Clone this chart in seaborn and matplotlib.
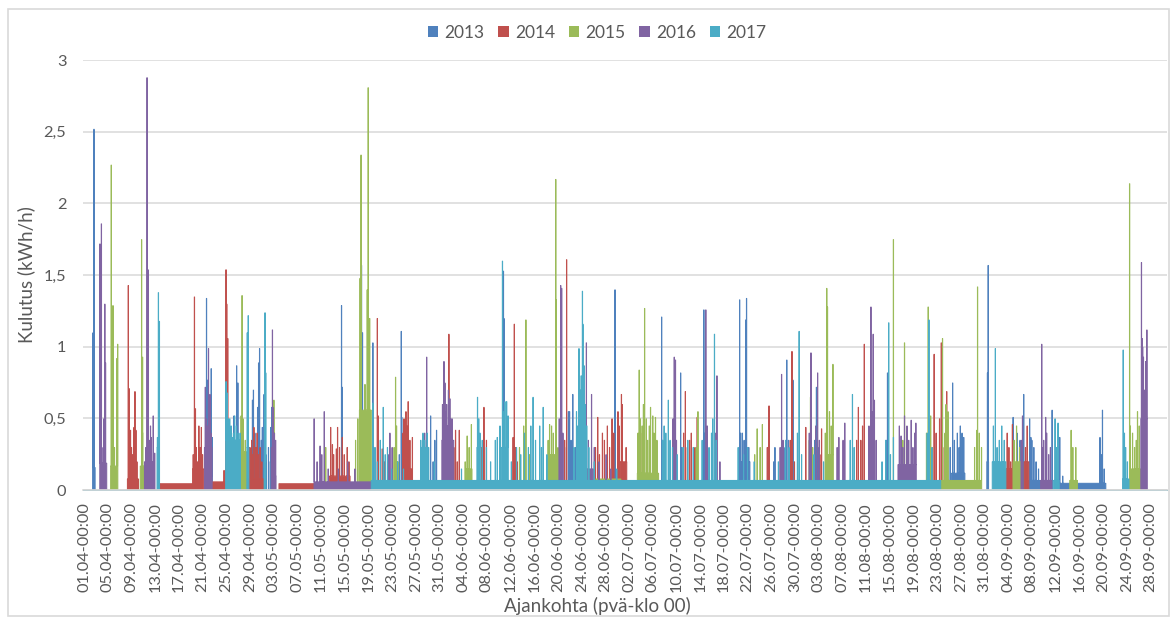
import numpy as np
import pandas as pd
import matplotlib
matplotlib.use("Agg")
import matplotlib.pyplot as plt
from matplotlib.patches import Patch, Rectangle
import seaborn as sns

# Hourly electricity use, 1 April - 30 September, one series per year.
YEARS = ["2013", "2014", "2015", "2016", "2017"]
COLORS = ["#4F81BD", "#C0504D", "#9BBB59", "#8064A2", "#4BACC6"]
N_DAYS = 183

# Each year: standby levels (start day, end day, kWh/h), peak hours (day, kWh/h)
# and smaller hourly readings in the busy periods (day, kWh/h).
base_2013 = [(1.55, 1.95, 0.16), (20.5, 21.7, 0.1), (25.3, 26.1, 0.2), (28.3, 30.5, 0.15),
             (31.5, 32.0, 0.2), (46.8, 47.2, 0.3), (110.6, 112.5, 0.2), (146.5, 148.8, 0.12),
             (152.5, 152.8, 0.2), (159.6, 161.6, 0.07), (164.7, 166.6, 0.05), (167.8, 172.6, 0.05)]
peaks_2013 = [(1.6, 1.10), (1.74, 2.52), (20.77, 1.34), (20.88, 0.77), (21.55, 0.85), (21.7, 0.37),
              (25.38, 0.52), (25.83, 0.87), (26.06, 0.75), (28.48, 0.63), (28.65, 0.70), (29.38, 0.58),
              (29.55, 0.89), (29.72, 0.99), (30.17, 0.44), (30.45, 0.67), (31.58, 0.44), (31.75, 0.58),
              (43.56, 1.29), (43.67, 0.72), (46.93, 1.57), (47.1, 1.10), (48.85, 1.03), (53.64, 1.11),
              (53.7, 0.51), (58.6, 0.52), (59.6, 0.42), (70.86, 1.53), (70.97, 1.20), (81.83, 0.55),
              (82.06, 0.55), (82.6, 0.67), (89.7, 1.40), (97.6, 1.21), (100.8, 0.82), (104.7, 1.26),
              (110.76, 1.33), (111.2, 0.40), (111.8, 1.19), (111.9, 1.34), (112.3, 0.30), (116.7, 0.30),
              (118.7, 0.91), (119.75, 0.77), (123.7, 0.72), (135.7, 0.82), (146.7, 0.75), (147.5, 0.40),
              (148.0, 0.45), (148.6, 0.37), (152.6, 0.82), (152.7, 1.57), (156.9, 0.51), (157.6, 0.40),
              (158.7, 0.67), (159.9, 0.37), (160.4, 0.30), (163.5, 0.56), (164.8, 0.37), (171.6, 0.37),
              (172.0, 0.56)]
minor_2013 = [(26.3, 0.35), (27.95, 0.3), (28.9, 0.4), (29.2, 0.3), (30.0, 0.35), (30.8, 0.25),
              (31.2, 0.3), (32.2, 0.2), (49.0, 0.3), (53.3, 0.25), (58.2, 0.3), (59.0, 0.2),
              (59.3, 0.35), (81.5, 0.3), (82.3, 0.35), (83.0, 0.3), (89.5, 0.35), (97.8, 0.35),
              (101.0, 0.3), (104.9, 0.4), (110.9, 0.4), (111.5, 0.35), (116.5, 0.2), (118.4, 0.3),
              (119.0, 0.35), (123.4, 0.35), (124.0, 0.3), (135.5, 0.35), (146.3, 0.3), (147.0, 0.35),
              (147.8, 0.3), (148.3, 0.4), (158.1, 0.35), (159.7, 0.5), (160.1, 0.35), (160.8, 0.2),
              (161.2, 0.15), (165.3, 0.1), (171.8, 0.25), (172.3, 0.15)]

base_2014 = [(7.4, 9.3, 0.08), (12.9, 18.4, 0.047), (18.4, 20.3, 0.15), (21.7, 24.0, 0.06),
             (27.6, 30.4, 0.08), (33.0, 38.9, 0.047), (41.5, 45.0, 0.1), (54.0, 55.5, 0.15),
             (90.6, 91.7, 0.2), (155.7, 156.8, 0.15), (158.8, 159.6, 0.2)]
peaks_2014 = [(7.54, 1.43), (7.71, 0.71), (7.93, 0.42), (8.5, 0.44), (8.67, 0.69), (8.84, 0.42),
              (18.69, 1.35), (18.86, 0.57), (19.47, 0.45), (19.86, 0.44), (23.7, 0.14), (24.03, 1.54),
              (24.15, 1.30), (24.32, 1.06), (28.37, 0.35), (28.77, 0.44), (29.05, 0.30), (29.5, 0.25),
              (41.7, 0.44), (41.98, 0.32), (42.66, 0.29), (42.88, 0.44), (43.67, 0.37), (44.5, 0.30),
              (49.58, 1.20), (49.75, 0.52), (50.4, 0.29), (54.1, 0.50), (54.4, 0.55), (54.78, 0.62),
              (55.5, 0.37), (61.68, 1.09), (62.8, 0.42), (63.4, 0.42), (67.6, 0.58), (72.5, 0.37),
              (72.7, 1.16), (81.55, 1.61), (86.78, 0.51), (87.6, 0.40), (88.4, 0.45), (89.2, 0.50),
              (90.2, 0.55), (90.8, 0.67), (90.9, 0.60), (91.6, 0.30), (94.04, 0.40), (101.6, 0.69),
              (102.6, 0.40), (103.6, 0.51), (115.7, 0.59), (119.6, 0.97), (121.9, 0.44), (124.6, 0.43),
              (130.8, 0.58), (131.8, 1.02), (143.6, 0.95), (144.8, 1.03), (145.7, 0.69), (155.9, 0.40),
              (156.8, 0.46), (159.0, 0.30), (159.3, 0.45)]
minor_2014 = [(8.1, 0.3), (8.3, 0.25), (9.0, 0.2), (18.5, 0.25), (19.0, 0.3), (19.2, 0.2),
              (19.7, 0.3), (20.1, 0.25), (28.1, 0.3), (28.5, 0.25), (29.3, 0.4), (29.8, 0.3),
              (30.1, 0.2), (42.2, 0.25), (43.2, 0.3), (44.0, 0.25), (44.8, 0.2), (50.8, 0.2),
              (53.9, 0.4), (54.6, 0.45), (55.1, 0.35), (62.5, 0.3), (63.1, 0.2), (67.2, 0.3),
              (68.0, 0.35), (72.9, 0.3), (73.2, 0.2), (81.2, 0.35), (86.4, 0.3), (87.1, 0.25),
              (87.9, 0.35), (88.8, 0.3), (89.5, 0.4), (90.4, 0.45), (101.3, 0.4), (101.9, 0.3),
              (102.3, 0.35), (103.2, 0.3), (115.4, 0.3), (119.3, 0.35), (120.0, 0.2), (124.3, 0.25),
              (130.5, 0.35), (131.2, 0.35), (131.5, 0.45), (143.9, 0.4), (144.5, 0.5), (145.3, 0.3),
              (156.2, 0.3), (156.5, 0.2)]

base_2015 = [(4.6, 5.8, 0.17), (9.6, 10.3, 0.17), (26.5, 27.6, 0.27), (32.0, 32.3, 0.2),
             (46.6, 48.6, 0.56), (52.5, 53.0, 0.2), (64.6, 65.6, 0.15), (78.5, 80.0, 0.25),
             (86.5, 90.7, 0.08), (93.5, 97.1, 0.12), (125.3, 126.6, 0.25), (144.7, 151.6, 0.07),
             (156.9, 158.5, 0.2), (166.5, 167.8, 0.07), (176.6, 178.5, 0.15)]
peaks_2015 = [(4.67, 2.27), (4.95, 1.29), (5.57, 0.92), (5.74, 1.02), (9.8, 1.75), (9.85, 0.87),
              (9.96, 0.93), (26.6, 0.52), (26.77, 1.36), (32.14, 0.63), (40.86, 0.30), (46.65, 1.48),
              (46.82, 2.34), (47.5, 0.74), (47.89, 1.40), (48.06, 2.81), (48.29, 1.20), (52.68, 0.79),
              (52.85, 0.45), (64.77, 0.38), (65.45, 0.46), (74.68, 1.19), (78.68, 0.46), (79.69, 2.17),
              (79.8, 1.33), (93.8, 0.84), (94.3, 0.45), (94.7, 1.27), (95.2, 0.35), (95.72, 0.58),
              (96.1, 0.52), (96.56, 0.51), (103.7, 0.55), (113.7, 0.43), (114.6, 0.46), (122.7, 0.65),
              (125.45, 1.41), (125.6, 1.28), (125.9, 0.55), (126.5, 0.88), (136.7, 1.75), (138.6, 1.03),
              (142.6, 1.28), (143.0, 0.52), (145.0, 1.06), (145.9, 0.55), (150.8, 0.42), (150.9, 1.42),
              (151.6, 0.30), (166.7, 0.42), (167.5, 0.30), (176.6, 2.14), (176.7, 0.45), (177.4, 0.30),
              (177.9, 0.55)]
minor_2015 = [(5.2, 0.3), (10.0, 0.4), (26.9, 0.5), (27.3, 0.35), (32.2, 0.4), (45.9, 0.35),
              (46.3, 0.5), (52.4, 0.3), (53.1, 0.2), (64.4, 0.2), (65.1, 0.3), (73.6, 0.3),
              (74.3, 0.45), (75.3, 0.25), (78.4, 0.35), (79.0, 0.45), (79.3, 0.4), (80.1, 0.3),
              (93.6, 0.4), (94.0, 0.5), (94.5, 0.6), (95.0, 0.5), (95.5, 0.45), (96.3, 0.4),
              (96.8, 0.35), (103.4, 0.3), (113.3, 0.25), (114.2, 0.3), (122.5, 0.35), (123.1, 0.3),
              (125.2, 0.4), (126.2, 0.45), (138.3, 0.35), (142.3, 0.4), (142.9, 0.5), (143.3, 0.3),
              (145.4, 0.4), (145.6, 0.6), (150.4, 0.3), (151.2, 0.4), (157.1, 0.35), (157.5, 0.45),
              (158.0, 0.3), (167.0, 0.3), (177.1, 0.4), (177.7, 0.35), (178.2, 0.45)]

base_2016 = [(2.75, 3.9, 0.19), (10.3, 11.9, 0.2), (20.4, 21.7, 0.3), (31.7, 32.5, 0.1),
             (38.9, 48.6, 0.06), (60.5, 62.5, 0.35), (84.8, 86.0, 0.15), (137.5, 140.6, 0.18),
             (161.6, 163.5, 0.07), (178.5, 179.6, 0.5)]
peaks_2016 = [(2.76, 1.72), (2.98, 1.86), (3.6, 1.30), (3.7, 0.89), (10.69, 2.88), (10.86, 1.54),
              (11.1, 0.35), (11.42, 0.37), (11.76, 0.52), (11.99, 0.26), (20.55, 0.72), (21.1, 0.99),
              (21.33, 0.67), (31.86, 1.12), (31.97, 0.58), (32.4, 0.35), (38.9, 0.50), (39.9, 0.31),
              (40.63, 0.55), (51.7, 0.40), (57.91, 0.93), (60.84, 0.90), (61.1, 0.55), (61.4, 0.45),
              (61.85, 0.64), (62.2, 0.50), (80.53, 1.43), (80.7, 1.41), (84.87, 1.03), (85.77, 0.67),
              (99.7, 0.93), (99.9, 0.91), (105.05, 1.26), (106.9, 0.80), (107.4, 0.20), (117.85, 0.81),
              (122.8, 0.96), (123.9, 0.82), (127.5, 0.37), (128.5, 0.47), (132.9, 1.28), (133.3, 1.09),
              (133.5, 0.63), (138.0, 0.38), (138.6, 0.52), (139.3, 0.35), (139.7, 0.49), (140.5, 0.47),
              (158.5, 0.52), (161.75, 1.02), (162.1, 0.35), (162.4, 0.51), (162.9, 0.25), (178.6, 1.59),
              (178.7, 1.06), (178.9, 0.93), (179.4, 0.52), (179.5, 1.12)]
minor_2016 = [(3.1, 0.3), (3.4, 0.5), (10.5, 0.3), (11.3, 0.45), (20.7, 0.5), (20.9, 0.45),
              (21.5, 0.4), (31.7, 0.3), (32.2, 0.4), (39.4, 0.2), (40.2, 0.25), (41.3, 0.15),
              (43.0, 0.15), (44.6, 0.2), (45.8, 0.15), (51.4, 0.25), (52.1, 0.3), (57.6, 0.4),
              (60.6, 0.6), (61.0, 0.75), (61.3, 0.6), (61.6, 0.7), (62.0, 0.5), (80.3, 0.5),
              (80.9, 0.4), (84.6, 0.4), (85.2, 0.35), (86.2, 0.3), (87.0, 0.2), (88.2, 0.25),
              (89.0, 0.15), (99.5, 0.5), (100.1, 0.35), (105.3, 0.45), (106.7, 0.4), (117.6, 0.3),
              (118.1, 0.35), (122.5, 0.4), (123.6, 0.45), (124.2, 0.35), (127.2, 0.3), (128.2, 0.35),
              (132.6, 0.45), (133.1, 0.55), (133.8, 0.35), (137.7, 0.45), (138.3, 0.3), (139.0, 0.45),
              (140.0, 0.3), (140.3, 0.4), (158.3, 0.35), (161.9, 0.3), (162.6, 0.4), (163.2, 0.3),
              (178.8, 1.0), (179.1, 0.7), (179.3, 0.9)]

base_2017 = [(12.4, 12.8, 0.3), (24.0, 26.5, 0.35), (27.6, 27.9, 0.3), (30.5, 30.8, 0.2),
             (48.6, 144.7, 0.07), (57.0, 58.3, 0.3), (66.4, 67.0, 0.3), (70.6, 71.7, 0.3),
             (83.4, 85.0, 0.45), (153.4, 155.7, 0.2), (163.7, 164.7, 0.07), (175.4, 176.5, 0.08)]
peaks_2017 = [(12.44, 0.37), (12.61, 1.38), (12.78, 1.18), (24.03, 0.76), (24.26, 0.68), (24.65, 0.50),
              (25.1, 0.37), (25.5, 0.52), (26.4, 0.40), (27.63, 1.10), (27.8, 1.22), (30.62, 1.24),
              (30.73, 0.82), (48.85, 0.61), (50.58, 0.58), (57.6, 0.35), (66.52, 0.65), (66.7, 0.50),
              (69.85, 0.37), (70.69, 1.60), (71.14, 0.62), (71.4, 0.62), (71.65, 0.52), (75.86, 0.65),
              (77.6, 0.58), (83.63, 0.99), (84.2, 1.39), (84.3, 1.16), (84.5, 0.87), (97.98, 0.45),
              (98.7, 0.63), (106.2, 0.50), (106.5, 1.09), (120.8, 1.11), (129.8, 0.67), (135.9, 1.17),
              (136.7, 0.37), (142.7, 1.19), (153.9, 0.99), (154.6, 0.35), (155.0, 0.45), (164.0, 0.50),
              (164.5, 0.47), (175.5, 0.98), (175.7, 0.40)]
minor_2017 = [(12.5, 0.3), (24.4, 0.5), (24.9, 0.45), (25.3, 0.4), (25.8, 0.45), (26.1, 0.4),
              (49.2, 0.3), (49.6, 0.2), (50.1, 0.35), (50.9, 0.25), (51.3, 0.3), (52.0, 0.15),
              (53.0, 0.2), (54.0, 0.15), (56.9, 0.35), (57.3, 0.4), (58.0, 0.4), (59.2, 0.2),
              (63.8, 0.15), (66.9, 0.4), (67.3, 0.35), (68.0, 0.3), (68.7, 0.2), (69.5, 0.35),
              (70.3, 0.45), (70.9, 0.55), (72.2, 0.2), (73.1, 0.3), (73.8, 0.25), (74.4, 0.4),
              (75.1, 0.3), (75.5, 0.45), (76.3, 0.35), (77.0, 0.45), (77.3, 0.3), (78.2, 0.25),
              (82.8, 0.3), (83.2, 0.55), (83.9, 0.7), (84.0, 0.8), (84.7, 0.6), (85.3, 0.3),
              (86.2, 0.2), (90.0, 0.15), (97.7, 0.35), (98.3, 0.4), (99.0, 0.35), (99.4, 0.3),
              (100.2, 0.25), (101.2, 0.3), (102.0, 0.35), (102.9, 0.3), (104.4, 0.35), (105.6, 0.3),
              (106.0, 0.4), (106.8, 0.35), (110.5, 0.3), (111.4, 0.25), (112.1, 0.3), (113.2, 0.2),
              (117.3, 0.2), (118.5, 0.35), (119.1, 0.3), (120.5, 0.4), (121.2, 0.25), (123.3, 0.25),
              (124.9, 0.2), (129.4, 0.35), (130.1, 0.3), (134.8, 0.2), (135.4, 0.35), (136.2, 0.25),
              (142.4, 0.4), (143.2, 0.3), (153.6, 0.45), (154.2, 0.3), (155.4, 0.35), (164.2, 0.3),
              (175.9, 0.3), (176.2, 0.2)]

X_TICK_LABELS = ["01.04", "05.04", "09.04", "13.04", "17.04", "21.04", "25.04", "29.04",
                 "03.05", "07.05", "11.05", "15.05", "19.05", "23.05", "27.05", "31.05",
                 "04.06", "08.06", "12.06", "16.06", "20.06", "24.06", "28.06", "02.07",
                 "06.07", "10.07", "14.07", "18.07", "22.07", "26.07", "30.07", "03.08",
                 "07.08", "11.08", "15.08", "19.08", "23.08", "27.08", "31.08", "04.09",
                 "08.09", "12.09", "16.09", "20.09", "24.09", "28.09"]
Y_TICKS = [0, 0.5, 1, 1.5, 2, 2.5, 3]
Y_TICK_LABELS = ["0", "0,5", "1", "1,5", "2", "2,5", "3"]

SERIES = {
    "2013": (base_2013, peaks_2013 + minor_2013),
    "2014": (base_2014, peaks_2014 + minor_2014),
    "2015": (base_2015, peaks_2015 + minor_2015),
    "2016": (base_2016, peaks_2016 + minor_2016),
    "2017": (base_2017, peaks_2017 + minor_2017),
}


def hourly_values(base, readings):
    """Expand standby periods and hourly readings into one value per hour."""
    n_hours = N_DAYS * 24
    vals = np.full(n_hours, np.nan)
    for start, end, level in base:
        vals[int(round(start * 24)):int(round(end * 24))] = level
    for day, value in readings:
        h = min(int(round(day * 24)), n_hours - 1)
        vals[h] = value if np.isnan(vals[h]) else max(vals[h], value)
    return vals


frames = []
for year in YEARS:
    vals = hourly_values(*SERIES[year])
    hours = np.arange(vals.size)
    frames.append(pd.DataFrame({"day": (hours + 0.5) / 24, "kwh": vals, "vuosi": year}))
df = pd.concat(frames).dropna()

sns.set_theme(style="white")
plt.rcParams["font.family"] = ["Lato", "DejaVu Sans"]

fig = plt.figure(figsize=(11.76, 6.19), dpi=100)
ax = fig.add_axes([83 / 1176, 1 - 490 / 619, 1084 / 1176, 430 / 619])

# One bin per hour; each bar's height is that hour's consumption.
for year, color in zip(YEARS, COLORS):
    sns.histplot(data=df[df["vuosi"] == year], x="day", weights="kwh",
                 bins=N_DAYS * 24, binrange=(0, N_DAYS),
                 element="step", fill=True, color=color, alpha=1, linewidth=0.75,
                 ax=ax, legend=False)

ax.set_xlim(0, N_DAYS)
ax.set_ylim(0, 3)
ax.set_yticks(Y_TICKS)
ax.set_yticklabels(Y_TICK_LABELS)
ax.set_xticks(np.arange(len(X_TICK_LABELS)) * 4 + 0.2)
ax.set_xticklabels([f"{d}-00:00" for d in X_TICK_LABELS], rotation=90)
ax.tick_params(axis="both", length=0, colors="#595959", labelsize=11.8)
ax.tick_params(axis="y", pad=12)
ax.tick_params(axis="x", pad=9)
ax.yaxis.grid(True, color="#D9D9D9", linewidth=1.1)
ax.set_axisbelow(True)
for side in ["left", "right", "top"]:
    ax.spines[side].set_visible(False)
ax.spines["bottom"].set_color("#D9D9D9")
ax.spines["bottom"].set_linewidth(1.2)
ax.spines["bottom"].set_zorder(5)

ax.set_xlabel("Ajankohta (pvä-klo 00)", color="#595959", fontsize=13.5, labelpad=0)
ax.set_ylabel("Kulutus (kWh/h)", color="#595959", fontsize=13.5, labelpad=6)
ax.xaxis.set_label_coords(597 / 1084 - 83 / 1084, -(597 - 490) / 430)

handles = [Patch(facecolor=c, edgecolor="none") for c in COLORS]
fig.legend(handles, YEARS, loc="center", bbox_to_anchor=(597 / 1176, 1 - 33 / 619), ncol=5,
           frameon=False, fontsize=12.5, handlelength=0.6, handleheight=0.6,
           handletextpad=0.35, columnspacing=0.8, labelcolor="#595959")

fig.add_artist(Rectangle((7.5 / 1176, 1 - 616 / 619), 1161 / 1176, 607 / 619,
                         transform=fig.transFigure, fill=False, edgecolor="#D9D9D9",
                         linewidth=1.2))

fig.savefig("out.png", dpi=100)
